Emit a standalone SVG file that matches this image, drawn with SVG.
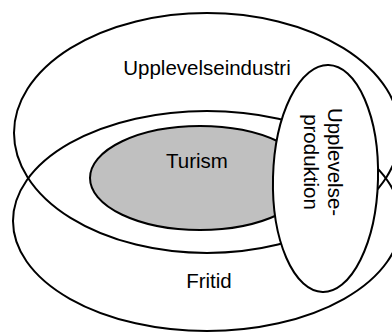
<svg xmlns="http://www.w3.org/2000/svg" width="392" height="332" viewBox="0 0 392 332">
  <style>
    .ring { fill: none; stroke: #000; stroke-width: 2; }
    .solid { stroke: #000; stroke-width: 2; }
    .label { font-family: "Liberation Sans", Arial, sans-serif; font-size: 20.5px; fill: #000; text-anchor: middle; }
  </style>
  <rect width="392" height="332" fill="#fff"/>

  <!-- Upplevelseindustri: upper large set -->
  <g id="upplevelseindustri">
    <ellipse class="ring" cx="207" cy="133" rx="193" ry="120"/>
    <text class="label" x="207" y="75">Upplevelseindustri</text>
  </g>

  <!-- Fritid: lower large set -->
  <g id="fritid">
    <ellipse class="ring" cx="207" cy="221" rx="194" ry="110"/>
    <text class="label" x="209" y="288">Fritid</text>
  </g>

  <!-- Turism: shaded core -->
  <g id="turism">
    <ellipse class="solid" cx="200" cy="178" rx="110" ry="52" fill="#c0c0c0"/>
    <text class="label" x="197" y="168">Turism</text>
  </g>

  <!-- Upplevelseproduktion: upright set on the right -->
  <g id="upplevelseproduktion">
    <ellipse class="solid" cx="325.5" cy="178.5" rx="52.5" ry="113.5" fill="#fff" transform="rotate(1.5 325.5 178.5)"/>
    <text class="label" transform="translate(328 162) rotate(90)">Upplevelse-</text>
    <text class="label" transform="translate(304 162) rotate(90)">produktion</text>
  </g>
</svg>
